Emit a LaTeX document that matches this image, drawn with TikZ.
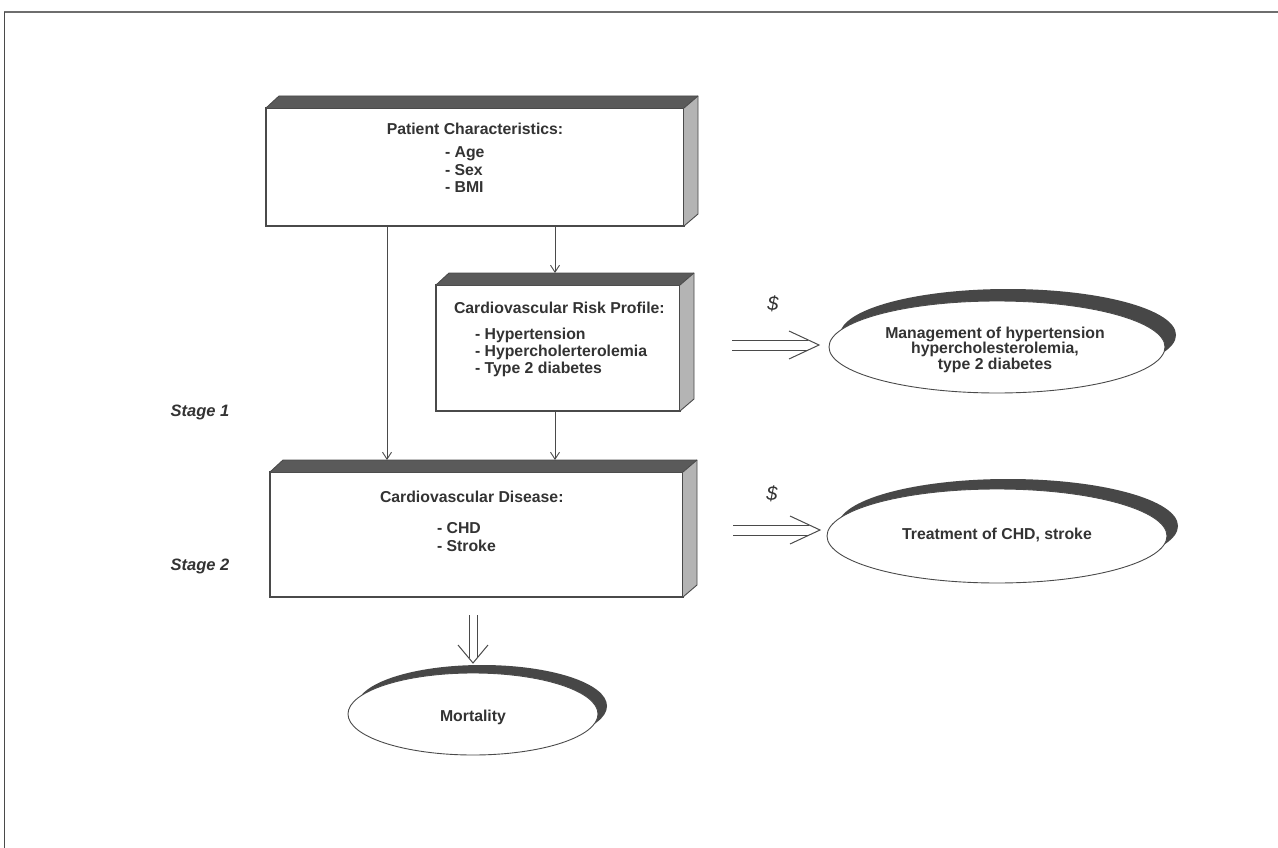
\documentclass[tikz,border=0pt]{standalone}
\usepackage{fontspec}
\setmainfont{Liberation Sans}
\usetikzlibrary{calc,arrows.meta,shapes.geometric}
\definecolor{ink}{HTML}{333333}
\definecolor{edge}{HTML}{4A4A4A}
\definecolor{bandc}{HTML}{5A5A5A}
\definecolor{sidec}{HTML}{B4B4B4}
\definecolor{rimc}{HTML}{474747}
\newcommand\mkdepth[1]{%
  \fill[bandc] (#1.north west) -- ++(13,-12) -- ($(#1.north east)+(14,-12)$) -- (#1.north east) -- cycle;
  \fill[sidec] (#1.north east) -- ++(14,-12) -- ($(#1.south east)+(14,-12)$) -- (#1.south east) -- cycle;
  \draw[edge,line width=0.9pt,line join=round] (#1.north west) -- ++(13,-12) -- ($(#1.north east)+(14,-12)$) -- ($(#1.south east)+(14,-12)$) -- (#1.south east);
  \draw[edge,line width=0.9pt] (#1.north east) -- ++(14,-12);}
\newcommand\dblarrH[2]{%
  \draw[dbl] ($(#1)+(0,-5)$) -- ($(#2)+(-11,-5)$);
  \draw[dbl] ($(#1)+(0,5)$) -- ($(#2)+(-11,5)$);
  \draw[dbl] ($(#2)+(-30,-14)$) -- (#2) -- ($(#2)+(-30,14)$);}
\newcommand\dblarrV[2]{%
  \draw[dbl] ($(#1)+(-4,0)$) -- ($(#2)+(-4,-5)$);
  \draw[dbl] ($(#1)+(4,0)$) -- ($(#2)+(4,-5)$);
  \draw[dbl] ($(#2)+(-15,-18)$) -- (#2) -- ($(#2)+(15,-18)$);}
\begin{document}
\begin{tikzpicture}[x=1pt,y=-1pt,
  every node/.style={inner sep=0pt,outer sep=0pt,text=ink},
  lbl/.style={font=\fontsize{15.8}{18}\selectfont\bfseries},
  stagelbl/.style={font=\fontsize{16.5}{18}\selectfont\bfseries\itshape},
  dollar/.style={font=\fontsize{20}{22}\selectfont\itshape},
  front/.style={draw=edge,line width=1.1pt,fill=white,rectangle},
  disk/.style={draw=edge,line width=0.9pt,fill=white,ellipse},
  conn/.style={draw=edge,line width=0.9pt,-{Straight Barb[length=7pt,width=9pt]}},
  dbl/.style={draw=edge,line width=1pt}]
\useasboundingbox (0,0) rectangle (1278,848);
\fill[white] (0,0) rectangle (1278,848);
% page frame
\draw[edge!80,line width=2pt] (4,12) -- (1278,12);
\draw[edge,line width=1pt] (4,12) -- (4,848);

% boxes
\node[front,minimum width=418,minimum height=118,anchor=north west] (pc) at (266,108) {};
\mkdepth{pc}
\node[front,minimum width=244,minimum height=126,anchor=north west] (cvrp) at (436,285) {};
\mkdepth{cvrp}
\node[front,minimum width=413,minimum height=125,anchor=north west] (cvd) at (270,472) {};
\mkdepth{cvd}

% disks
\fill[rimc] (1008,335) ellipse [x radius=168,y radius=46];
\node[disk,minimum width=336,minimum height=92] (mg) at (997,347) {};
\fill[rimc] (1008,526) ellipse [x radius=170,y radius=47];
\node[disk,minimum width=340,minimum height=94] (tr) at (997,536) {};
\fill[rimc] (482,706) ellipse [x radius=125,y radius=41];
\node[disk,minimum width=250,minimum height=82] (mo) at (473,714) {};

% texts
\node[lbl,anchor=base] at (475,135) {Patient Characteristics:};
\node[lbl,anchor=base west] at (445,158) {- Age};
\node[lbl,anchor=base west] at (445,175.5) {- Sex};
\node[lbl,anchor=base west] at (445,193) {- BMI};

\node[lbl,anchor=base west] at (454,313) {Cardiovascular Risk Profile:};
\node[lbl,anchor=base west] at (475,339) {- Hypertension};
\node[lbl,anchor=base west] at (475,356) {- Hypercholerterolemia};
\node[lbl,anchor=base west] at (475,373) {- Type 2 diabetes};

\node[lbl,anchor=base west] at (380,502) {Cardiovascular Disease:};
\node[lbl,anchor=base west] at (437,533) {- CHD};
\node[lbl,anchor=base west] at (437,551) {- Stroke};

\node[lbl,anchor=base] at (995,338) {Management of hypertension};
\node[lbl,anchor=base] at (995,353.5) {hypercholesterolemia,};
\node[lbl,anchor=base] at (995,369) {type 2 diabetes};
\node[lbl,anchor=base] at (997,539) {Treatment of CHD, stroke};
\node[lbl,anchor=base] at (473,721) {Mortality};

\node[dollar] at (773,304) {\$};
\node[dollar] at (772,494) {\$};
\node[stagelbl] at (200,412) {Stage 1};
\node[stagelbl] at (200,566) {Stage 2};

% connectors
\coordinate (xa) at (387,0);
\coordinate (xb) at (555,0);
\coordinate (cvrpB) at ($(cvrp.north)+(0,-12)$);
\coordinate (cvdB) at ($(cvd.north)+(0,-12)$);
\draw[conn] (pc.south -| xa) -- (cvdB -| xa);
\draw[conn] (pc.south -| xb) -- (cvrpB -| xb);
\draw[conn] (cvrp.south -| xb) -- (cvdB -| xb);

\coordinate (t1) at ($(mg.west)+(-10,-2)$);
\coordinate (s1) at ($(t1)+(-87,0)$);
\coordinate (t2) at ($(tr.west)+(-7,-6)$);
\coordinate (s2) at ($(t2)+(-87,0)$);
\coordinate (t3) at ($(mo.north)+(0,-10)$);
\coordinate (s3) at ($(t3)+(0,-48)$);
\dblarrH{s1}{t1}
\dblarrH{s2}{t2}
\dblarrV{s3}{t3}
\end{tikzpicture}
\end{document}
